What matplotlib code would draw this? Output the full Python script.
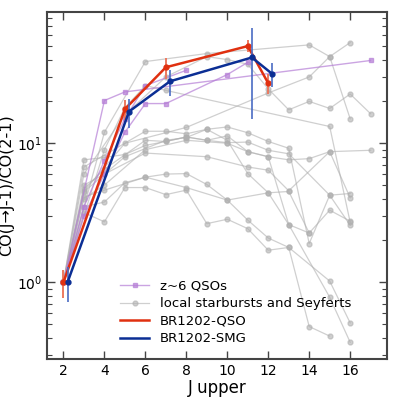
import matplotlib
matplotlib.use("Agg")
import matplotlib.pyplot as plt
from matplotlib.lines import Line2D
import numpy as np

# z~6 QSOs
qso6 = [
    ([2, 4, 5, 17], [1, 20.3, 23.4, 39.4]),
    ([2, 3, 4, 5, 6, 8], [1, 3.5, 7.5, 15, 26, 33.5]),
    ([2, 3, 4, 5, 6, 7, 10, 11], [1, 3.0, 6.0, 12, 19.3, 19.3, 31.2, 38.2]),
]

# local starbursts and Seyferts
local = [
    ([2, 4, 6, 9, 14, 15, 16], [1, 12, 38.7, 44.2, 51, 42, 15]),
    ([2, 3, 5, 7, 9, 10, 11, 12, 13, 14, 15, 16, 17], [1, 6, 16, 30, 42, 40, 37, 24.6, 17.4, 20, 17.8, 22.6, 16.3]),
    ([2, 4, 5, 6, 7, 15, 16], [1, 9, 18, 26, 24, 13.2, 2.7]),
    ([2, 3, 5, 8, 12, 14, 15, 16], [1, 4.5, 10, 13, 23, 30, 42, 53]),
    ([2, 3, 4, 5, 6, 7, 8, 9, 10, 11, 12, 13, 14, 15, 17], [1, 7.6, 7.9, 8.3, 9.65, 10.3, 11.1, 10.5, 11.3, 8.7, 8.0, 7.6, 7.75, 8.7, 8.9]),
    ([2, 3, 6, 7, 8, 9, 10, 11, 12, 13, 14, 15, 16], [1, 6.75, 12.2, 12.2, 11.7, 12.6, 13.1, 11.9, 10.3, 9.2, 1.9, 4.23, 2.57]),
    ([2, 3, 4, 6, 7, 8, 9, 10, 11, 12, 13, 15, 16], [1, 4.7, 6.5, 10.5, 10.3, 11.1, 10.5, 10.1, 10.2, 8.9, 8.4, 4.23, 4.35]),
    ([2, 3, 5, 7, 8, 9, 10, 11, 12, 13, 14], [1, 4.47, 8, 10.5, 11, 12.6, 10.5, 6.05, 4.4, 4.5, 2.26]),
    ([2, 3, 4, 5, 6, 7, 8, 9, 10, 11, 12, 13, 15, 16], [1, 3.48, 3.78, 5.2, 5.7, 6.0, 6.05, 5.05, 3.9, 2.8, 2.08, 1.78, 1.02, 0.51]),
    ([2, 3, 4, 5, 6, 7, 8, 9, 10, 11, 12, 13, 14, 15], [1, 3.17, 2.72, 4.8, 4.8, 4.27, 4.6, 2.64, 2.84, 2.43, 1.7, 1.78, 0.48, 0.41]),
    ([2, 3, 4, 6, 8, 10, 12, 13, 15, 16], [1, 4.1, 4.6, 5.7, 4.8, 3.9, 4.4, 2.6, 0.78, 0.37]),
    ([2, 3, 4, 6, 9, 11, 12, 13, 15, 16], [1, 5.0, 6.0, 8.5, 8.0, 6.75, 6.4, 4.55, 8.7, 4.05]),
    ([2, 3, 4, 6, 8, 10, 11, 12, 13, 14, 15, 16], [1, 4.0, 5.0, 9.0, 10.5, 10.0, 8.7, 8.0, 2.6, 2.26, 3.3, 2.75]),
]

# BR1202 sources
qso_J = [2, 5, 7, 11, 12]
qso_v = [1.0, 17.6, 35.2, 50.0, 27.0]
qso_err = [0.23, 3.0, 6.0, 5.0, 4.5]

smg_J = [2.2, 5.2, 7.2, 11.2, 12.2]
smg_v = [1.0, 16.9, 27.9, 41.4, 31.5]
smg_err = [0.28, 4.0, 6.0, 26.5, 6.3]

red = '#e03010'
blue = '#0b2e94'
purple = '#b57ed6'
gray = '#b0b0b0'

fig = plt.figure(figsize=(3.99, 3.99), dpi=100)
ax = fig.add_axes([0.118, 0.100, 0.852, 0.870])

for j, v in local:
    ax.plot(j, v, '-o', color=gray, alpha=0.6, lw=0.9, ms=3.5, zorder=1)
for j, v in qso6:
    ax.plot(j, v, '-s', color=purple, alpha=0.7, lw=1.0, ms=3.5, zorder=2)

ax.errorbar(qso_J, qso_v, yerr=qso_err, fmt='-o', color=red, lw=1.8, ms=3.5,
            ecolor='#ec7a60', elinewidth=1.4, capsize=0, zorder=4)
ax.errorbar(smg_J, smg_v, yerr=smg_err, fmt='-o', color=blue, lw=1.8, ms=3.5,
            ecolor='#4a6cc4', elinewidth=1.2, capsize=0, zorder=5)

ax.set_yscale('log')
ax.set_xlim(1.2, 17.8)
ax.set_ylim(0.28, 88)
ax.set_xticks(range(2, 17, 2))
ax.tick_params(which='both', direction='in', top=True, right=True, labelsize=10)
ax.tick_params(which='major', length=6, width=1, color='#444444')
ax.tick_params(which='minor', length=3.5, width=0.8, color='#444444')
for s in ax.spines.values():
    s.set_linewidth(1.5)
    s.set_color('#444444')

ax.set_xlabel('J upper', fontsize=12, labelpad=1)
ax.set_ylabel('CO(J→J-1)/CO(2-1)', fontsize=11.5, labelpad=2)

handles = [
    Line2D([], [], color=purple, alpha=0.7, marker='s', ms=3.5, lw=1.0),
    Line2D([], [], color=gray, alpha=0.6, marker='o', ms=3.5, lw=0.9),
    Line2D([], [], color=red, lw=1.8),
    Line2D([], [], color=blue, lw=1.8),
]
labels = ['z~6 QSOs', 'local starbursts and Seyferts', 'BR1202-QSO', 'BR1202-SMG']
ax.legend(handles, labels, loc='lower left', bbox_to_anchor=(0.18, 0.005),
          frameon=False, fontsize=9.5, handlelength=2.2, labelspacing=0.35)

fig.savefig('out.png', dpi=100)
